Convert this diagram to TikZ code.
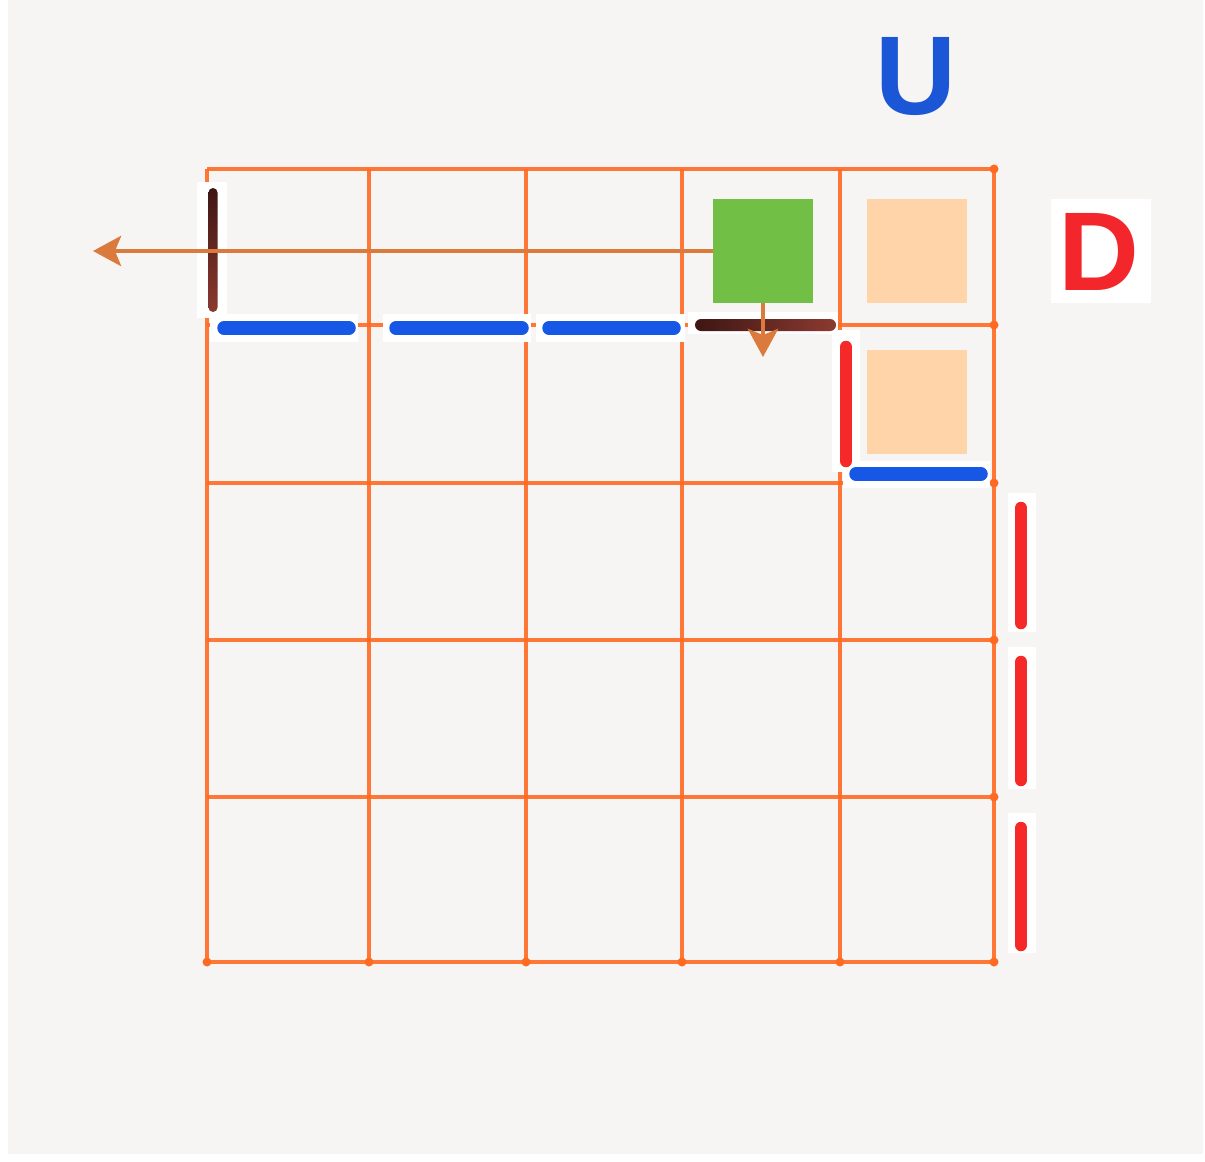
\documentclass[tikz,border=0pt]{standalone}
\usepackage{fontspec}
\setmainfont{Liberation Sans}
\usetikzlibrary{arrows.meta}
\definecolor{paper}{HTML}{F6F5F4}
\definecolor{gridor}{HTML}{FF6A22}
\definecolor{arrowor}{HTML}{DB7A3D}
\definecolor{sqgreen}{HTML}{71BF44}
\definecolor{sqpeach}{HTML}{FFD4A8}
\definecolor{mkblue}{HTML}{1657E6}
\definecolor{mkred}{HTML}{F52A28}
\definecolor{mkbrownA}{HTML}{3E1614}
\definecolor{mkbrownB}{HTML}{8C3A30}
\definecolor{letblue}{HTML}{1A56D6}
\definecolor{letred}{HTML}{F2262B}
\tikzset{
  gridline/.style={draw=gridor, line width=4.5pt, opacity=0.9},
  griddot/.style={fill=gridor},
  patch/.style={fill=white},
  bluestroke/.style={draw=mkblue, line width=13.5pt, line cap=round},
  redstroke/.style={draw=mkred, line width=12.5pt, line cap=round},
  sqbox/.style={draw=none, minimum width=100pt, minimum height=104pt, inner sep=0pt, outer sep=0pt},
  movearrow/.style={draw=arrowor, line width=4.5pt, -{Stealth[length=28pt, width=30pt, inset=6pt]}},
  letter/.style={inner sep=0pt, font=\fontsize{112}{112}\selectfont\bfseries}
}
\begin{document}
\begin{tikzpicture}[x=1pt, y=-1pt]
\useasboundingbox (0,0) rectangle (1205,1162);
\fill[white] (0,0) rectangle (1205,1162);
\fill[paper] (8,0) rectangle (1203,1154);

% grid
\foreach \xx in {207,369,526,682,840,994} \draw[gridline] (\xx,169) -- (\xx,962);
\foreach \yy in {169,325,483,640,797,962} \draw[gridline] (207,\yy) -- (994,\yy);
\foreach \xx in {207,369,526,682,840,994} \fill[griddot] (\xx,962) circle (4.5pt);
\foreach \yy in {169,325,483,640,797} \fill[griddot] (994,\yy) circle (4.5pt);

% white patches behind marker strokes
\fill[patch] (197,182) rectangle (227,318);
\fill[patch] (210,314) rectangle (358,342);
\fill[patch] (383,314) rectangle (531,342);
\fill[patch] (536,314) rectangle (685,342);
\fill[patch] (688,312) rectangle (838,334);
\fill[patch] (832,330) rectangle (860,472);
\fill[patch] (843,461) rectangle (990,488);
\fill[patch] (1008,493) rectangle (1036,632);
\fill[patch] (1008,647) rectangle (1036,789);
\fill[patch] (1008,813) rectangle (1036,953);
\fill[patch] (1051,199) rectangle (1151,303);

% marker strokes
\shade[top color=mkbrownA, bottom color=mkbrownB, rounded corners=4.5pt] (208.5,188) rectangle (217.5,312);
\draw[bluestroke] (224,328) -- (349,328);
\draw[bluestroke] (396,328) -- (522,328);
\draw[bluestroke] (549,328) -- (674,328);
\draw[bluestroke] (856,474) -- (981,474);
\shade[left color=mkbrownA, right color=mkbrownB, rounded corners=6pt] (695,319) rectangle (836,331);
\draw[redstroke] (846,347) -- (846,461);
\draw[redstroke] (1021,508) -- (1021,623);
\draw[redstroke] (1021,662) -- (1021,780);
\draw[redstroke] (1021,828) -- (1021,945);

% squares
\node[sqbox, fill=sqgreen] (green) at (763,251) {};
\node[sqbox, fill=sqpeach] (peachA) at (917,251) {};
\node[sqbox, fill=sqpeach] (peachB) at (917,402) {};

% arrows
\coordinate (lefttip) at (93,251);
\coordinate (downtip) at (763,357);
\draw[movearrow] (green.west) -- (lefttip);
\draw[movearrow, shorten <=-6pt] ([yshift=-6pt]green.south) -- (downtip);

% letters
\node[letter, text=letblue] (U) at (916,77) {U};
\node[letter, text=letred] (D) at (1099,252) {D};
\end{tikzpicture}
\end{document}
